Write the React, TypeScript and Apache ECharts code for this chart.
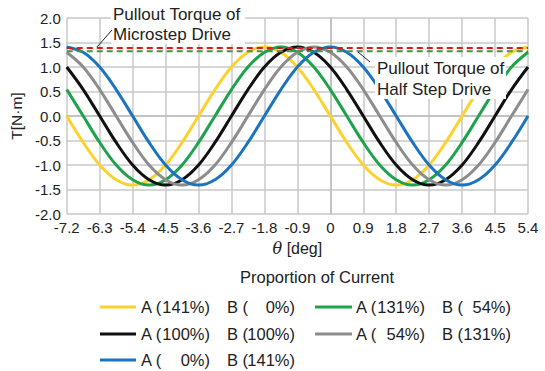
import React, { useEffect, useRef } from "react";
import * as echarts from "echarts";

// rotor angle θ [deg]
const thetaDeg = [-7.2, -6.75, -6.3, -5.85, -5.4, -4.95, -4.5, -4.05, -3.6, -3.15, -2.7, -2.25, -1.8, -1.35, -0.9, -0.45, 0, 0.45, 0.9, 1.35, 1.8, 2.25, 2.7, 3.15, 3.6, 4.05, 4.5, 4.95, 5.4];

// torque T [N·m] for each current proportion
const torqueA141B0 = [0, -0.54, -1.0, -1.3, -1.41, -1.3, -1.0, -0.54, 0, 0.54, 1.0, 1.3, 1.41, 1.3, 1.0, 0.54, 0, -0.54, -1.0, -1.3, -1.41, -1.3, -1.0, -0.54, 0, 0.54, 1.0, 1.3, 1.41];
const torqueA131B54 = [0.54, 0, -0.54, -1.0, -1.3, -1.41, -1.3, -1.0, -0.54, 0, 0.54, 1.0, 1.3, 1.41, 1.3, 1.0, 0.54, 0, -0.54, -1.0, -1.3, -1.41, -1.3, -1.0, -0.54, 0, 0.54, 1.0, 1.3];
const torqueA100B100 = [1.0, 0.54, 0, -0.54, -1.0, -1.3, -1.41, -1.3, -1.0, -0.54, 0, 0.54, 1.0, 1.3, 1.41, 1.3, 1.0, 0.54, 0, -0.54, -1.0, -1.3, -1.41, -1.3, -1.0, -0.54, 0, 0.54, 1.0];
const torqueA54B131 = [1.3, 1.0, 0.54, 0, -0.54, -1.0, -1.3, -1.41, -1.3, -1.0, -0.54, 0, 0.54, 1.0, 1.3, 1.41, 1.3, 1.0, 0.54, 0, -0.54, -1.0, -1.3, -1.41, -1.3, -1.0, -0.54, 0, 0.54];
const torqueA0B141 = [1.41, 1.3, 1.0, 0.54, 0, -0.54, -1.0, -1.3, -1.41, -1.3, -1.0, -0.54, 0, 0.54, 1.0, 1.3, 1.41, 1.3, 1.0, 0.54, 0, -0.54, -1.0, -1.3, -1.41, -1.3, -1.0, -0.54, 0];

// pullout torque levels
const pulloutMicrostep = 1.39;
const pulloutHalfStep = 1.32;

// legend entries: [A %, B %]
const legendA = ["141", "131", "100", "54", "0"];
const legendB = ["0", "54", "100", "131", "141"];
const seriesColors = ["#FDD12E", "#1DA34B", "#111111", "#8D8D8D", "#1B74BD"];
const seriesData = [torqueA141B0, torqueA131B54, torqueA100B100, torqueA54B131, torqueA0B141];

const FONT = "'Liberation Sans', Arial, Helvetica, sans-serif";

export default function App() {
  const ref = useRef<HTMLDivElement>(null);

  useEffect(() => {
    document.body.style.margin = "0";
    if (!ref.current) return;
    const chart = echarts.init(ref.current, undefined, { renderer: "svg" });

    const pair = (arr: number[]) => thetaDeg.map((x, i) => [x, arr[i]]);

    const curveSeries = seriesData.map((arr, i) => ({
      type: "line",
      name: `A (${legendA[i]}%) B (${legendB[i]}%)`,
      data: pair(arr),
      smooth: 0.35,
      showSymbol: false,
      symbol: "none",
      lineStyle: { color: seriesColors[i], width: 3 },
      z: 3,
    }));

    const xMin = thetaDeg[0];
    const xMax = thetaDeg[thetaDeg.length - 1];
    const dashSeries = [
      { v: pulloutMicrostep, c: "#E8131C" },
      { v: pulloutHalfStep, c: "#3E9A3E" },
    ].map((d) => ({
      type: "line",
      data: [
        [xMin, d.v],
        [xMax, d.v],
      ],
      showSymbol: false,
      symbol: "none",
      lineStyle: { color: d.c, width: 2, type: [6, 4] },
      z: 4,
    }));

    // legend layout
    const rows = [307, 334, 360];
    const cols = [
      { lx: 100, lw: 36, ax: 141, aEnd: 210, bx: 227, bEnd: 295 },
      { lx: 315, lw: 37, ax: 356, aEnd: 425, bx: 442, bEnd: 511 },
    ];
    const legendGraphics: any[] = [];
    seriesColors.forEach((color, i) => {
      const col = cols[i % 2];
      const y = rows[Math.floor(i / 2)];
      legendGraphics.push({
        type: "line",
        z: 100,
        shape: { x1: col.lx, y1: y, x2: col.lx + col.lw, y2: y },
        style: { stroke: color, lineWidth: 3 },
      });
      const textStyle = (text: string, align: string) => ({
        text,
        fill: "#222",
        fontSize: 16.5,
        fontFamily: FONT,
        textAlign: align,
        textVerticalAlign: "middle",
      });
      legendGraphics.push({ type: "text", z: 100, x: col.ax, y, style: textStyle("A (", "left") });
      legendGraphics.push({ type: "text", z: 100, x: col.aEnd, y, style: textStyle(`${legendA[i]}%)`, "right") });
      legendGraphics.push({ type: "text", z: 100, x: col.bx, y, style: textStyle("B (", "left") });
      legendGraphics.push({ type: "text", z: 100, x: col.bEnd, y, style: textStyle(`${legendB[i]}%)`, "right") });
    });

    const annoText = (x: number, y: number, text: string) => ({
      type: "text",
      z: 101,
      x,
      y,
      style: {
        text,
        fill: "#222",
        fontSize: 17,
        fontFamily: FONT,
        textAlign: "left",
        textVerticalAlign: "middle",
      },
    });

    const option: any = {
      animation: false,
      grid: { left: 60, right: 17, top: 18, bottom: 157, containLabel: false },
      xAxis: {
        type: "value",
        min: -7.2,
        max: 5.4,
        interval: 0.9,
        name: "{t|θ} [deg]",
        nameLocation: "middle",
        nameGap: 26,
        nameTextStyle: {
          color: "#222",
          fontSize: 16,
          fontFamily: FONT,
          rich: {
            t: { fontStyle: "italic", fontSize: 16, fontFamily: "'DejaVu Serif', serif", color: "#222" },
          },
        },
        axisLine: { show: true, lineStyle: { color: "#BDBDBD", width: 1.5 } },
        axisTick: { show: false },
        splitLine: { show: true, lineStyle: { color: "#C8C8C8", width: 1.5 } },
        axisLabel: {
          color: "#222",
          fontSize: 15,
          fontFamily: FONT,
          margin: 6,
          formatter: (v: number) => {
            const r = Math.round(v * 10) / 10;
            return r === 0 ? "0" : r.toFixed(1);
          },
        },
      },
      yAxis: {
        type: "value",
        min: -2,
        max: 2,
        interval: 0.5,
        name: "T[N·m]",
        nameLocation: "middle",
        nameGap: 33,
        nameTextStyle: { color: "#222", fontSize: 15.5, fontFamily: FONT },
        axisLine: { show: true, lineStyle: { color: "#BDBDBD", width: 1.5 } },
        axisTick: { show: false },
        splitLine: { show: true, lineStyle: { color: "#C8C8C8", width: 1.5 } },
        axisLabel: {
          color: "#222",
          fontSize: 15,
          fontFamily: FONT,
          margin: 6,
          formatter: (v: number) => (Math.round(v * 10) / 10).toFixed(1),
        },
      },
      series: [...curveSeries, ...dashSeries],
      graphic: [
        // microstep annotation
        { type: "rect", z: 100, shape: { x: 111, y: 2, width: 134, height: 42 }, style: { fill: "#fff" } },
        annoText(113, 14, "Pullout Torque of"),
        annoText(113, 34, "Microstep Drive"),
        { type: "line", z: 101, shape: { x1: 112, y1: 30, x2: 97, y2: 47 }, style: { stroke: "#222", lineWidth: 1 } },
        // half step annotation
        { type: "rect", z: 100, shape: { x: 375, y: 57, width: 131, height: 42 }, style: { fill: "#fff" } },
        annoText(377, 68, "Pullout Torque of"),
        annoText(377, 89, "Half Step Drive"),
        { type: "line", z: 101, shape: { x1: 358, y1: 52, x2: 370, y2: 62 }, style: { stroke: "#222", lineWidth: 1 } },
        // legend
        {
          type: "text",
          z: 100,
          x: 317,
          y: 277,
          style: {
            text: "Proportion of Current",
            fill: "#222",
            fontSize: 16.5,
            fontFamily: FONT,
            textAlign: "center",
            textVerticalAlign: "middle",
          },
        },
        ...legendGraphics,
      ],
    };

    chart.setOption(option);
    return () => chart.dispose();
  }, []);

  return <div ref={ref} style={{ width: 545, height: 371 }} />;
}
